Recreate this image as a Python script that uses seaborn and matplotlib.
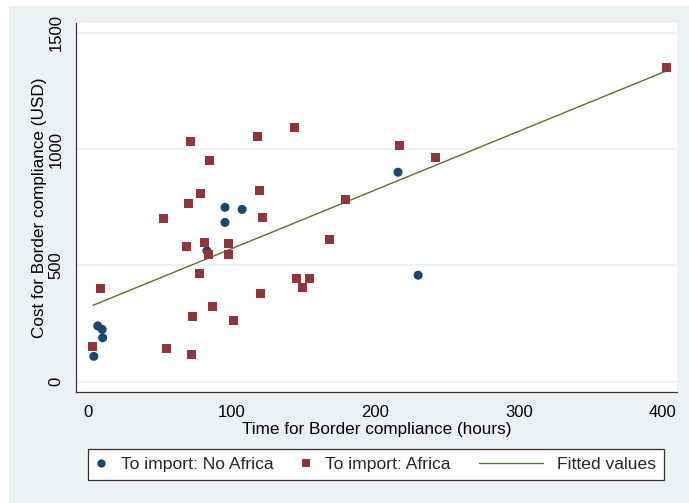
import matplotlib
matplotlib.use("Agg")
import matplotlib.pyplot as plt
from matplotlib.lines import Line2D
from matplotlib.patches import Rectangle
from matplotlib.legend_handler import HandlerLine2D
import seaborn as sns
import pandas as pd

# ---- data ----
no_africa_time = [4.3, 7.0, 10.1, 10.4, 82.9, 95.5, 95.5, 107.4, 215.8, 229.8]
no_africa_cost = [109, 240, 225, 189, 563, 750, 685, 741, 901, 458]

africa_time = [3.7, 8.6, 52.9, 54.5, 68.6, 69.8, 71.6, 71.9, 73.1, 77.7, 78.3,
               81.4, 83.9, 84.8, 86.9, 97.9, 98.2, 101.6, 117.8, 119.7, 120.0,
               121.5, 143.8, 145.1, 149.7, 154.2, 168.0, 179.0, 216.7, 242.1, 402.4]
africa_cost = [150, 399, 703, 143, 580, 766, 1031, 119, 282, 464, 809,
               599, 549, 952, 325, 546, 595, 265, 1055, 821, 380,
               708, 1093, 446, 406, 443, 613, 785, 1014, 965, 1350]

group_labels = ["To import: No Africa", "To import: Africa", "Fitted values"]
x_ticks = [0, 100, 200, 300, 400]
y_ticks = [0, 500, 1000, 1500]
x_label = "Time for Border compliance (hours)"
y_label = "Cost for Border compliance (USD)"

df = pd.DataFrame({
    "time": no_africa_time + africa_time,
    "cost": no_africa_cost + africa_cost,
    "group": ["No Africa"] * len(no_africa_time) + ["Africa"] * len(africa_time),
})

# ---- style ----
sns.set_theme(style="white")
plt.rcParams["font.family"] = ["Liberation Sans", "DejaVu Sans"]

BLUE = "#1a476f"
RED = "#90353b"
GREEN = "#55752f"
BG = "#eaf2f3"
W, H = 689, 503

fig = plt.figure(figsize=(W / 100, H / 100), dpi=100)
fig.patch.set_facecolor("white")
fig.add_artist(Rectangle((9 / W, 0), 1 - 9 / W, 1 - 6 / H, transform=fig.transFigure,
                         facecolor=BG, edgecolor="none", zorder=-10))

ax = fig.add_axes([76 / W, 1 - 392.3 / H, (677 - 76) / W, (392.3 - 23) / H])
ax.set_facecolor("white")

for y in y_ticks:
    ax.axhline(y, color=BG, lw=1.2, zorder=0)

sns.regplot(data=df, x="time", y="cost", scatter=False, ci=None, truncate=True,
            color=GREEN, line_kws={"lw": 1.0, "zorder": 2}, ax=ax)

sns.scatterplot(data=df, x="time", y="cost", hue="group", style="group",
                hue_order=["No Africa", "Africa"], style_order=["No Africa", "Africa"],
                palette={"No Africa": BLUE, "Africa": RED},
                markers={"No Africa": "o", "Africa": "s"},
                s=42, linewidth=0, legend=False, zorder=3, ax=ax)

ax.set_xlim(-8.1, 409.8)
ax.set_ylim(-45.6, 1542.8)
ax.set_xticks(x_ticks)
ax.set_yticks(y_ticks)
ax.set_xticklabels([str(v) for v in x_ticks])
ax.set_yticklabels([str(v) for v in y_ticks], rotation=90, va="center")

for s in ["top", "right"]:
    ax.spines[s].set_visible(False)
for s in ["left", "bottom"]:
    ax.spines[s].set_color("#333333")
    ax.spines[s].set_linewidth(0.9)

ax.tick_params(axis="both", direction="out", length=4.8, width=0.8, color="#555555",
               labelsize=12, labelcolor="black")
ax.tick_params(axis="y", pad=4.0)
ax.tick_params(axis="x", pad=4.5)

ax.set_xlabel(x_label, fontsize=12.3, labelpad=1.0, color="black")
ax.set_ylabel(y_label, fontsize=12.3, labelpad=1.5, color="black")


class WideLine(HandlerLine2D):
    def legend_artist(self, legend, orig_handle, fontsize, handlebox):
        handlebox.width = 3.7 * fontsize
        return super().legend_artist(legend, orig_handle, fontsize, handlebox)


h1 = Line2D([], [], marker="o", ls="none", color=BLUE, markersize=6, markeredgewidth=0)
h2 = Line2D([], [], marker="s", ls="none", color=RED, markersize=6, markeredgewidth=0)
h3 = Line2D([], [], color=GREEN, lw=1.0)

leg = fig.legend([h1, h2, h3], group_labels, ncol=3, loc="upper left",
                 bbox_to_anchor=(88.3 / W, 1 - 449.3 / H), bbox_transform=fig.transFigure,
                 frameon=True, fancybox=False, framealpha=1, edgecolor="#333333",
                 fontsize=12.6, handlelength=0.6, handletextpad=0.8, columnspacing=1.58,
                 borderpad=0.45, borderaxespad=0, handler_map={h3: WideLine()})
leg.get_frame().set_linewidth(0.9)

fig.savefig("out.png", dpi=100, facecolor=fig.get_facecolor())
